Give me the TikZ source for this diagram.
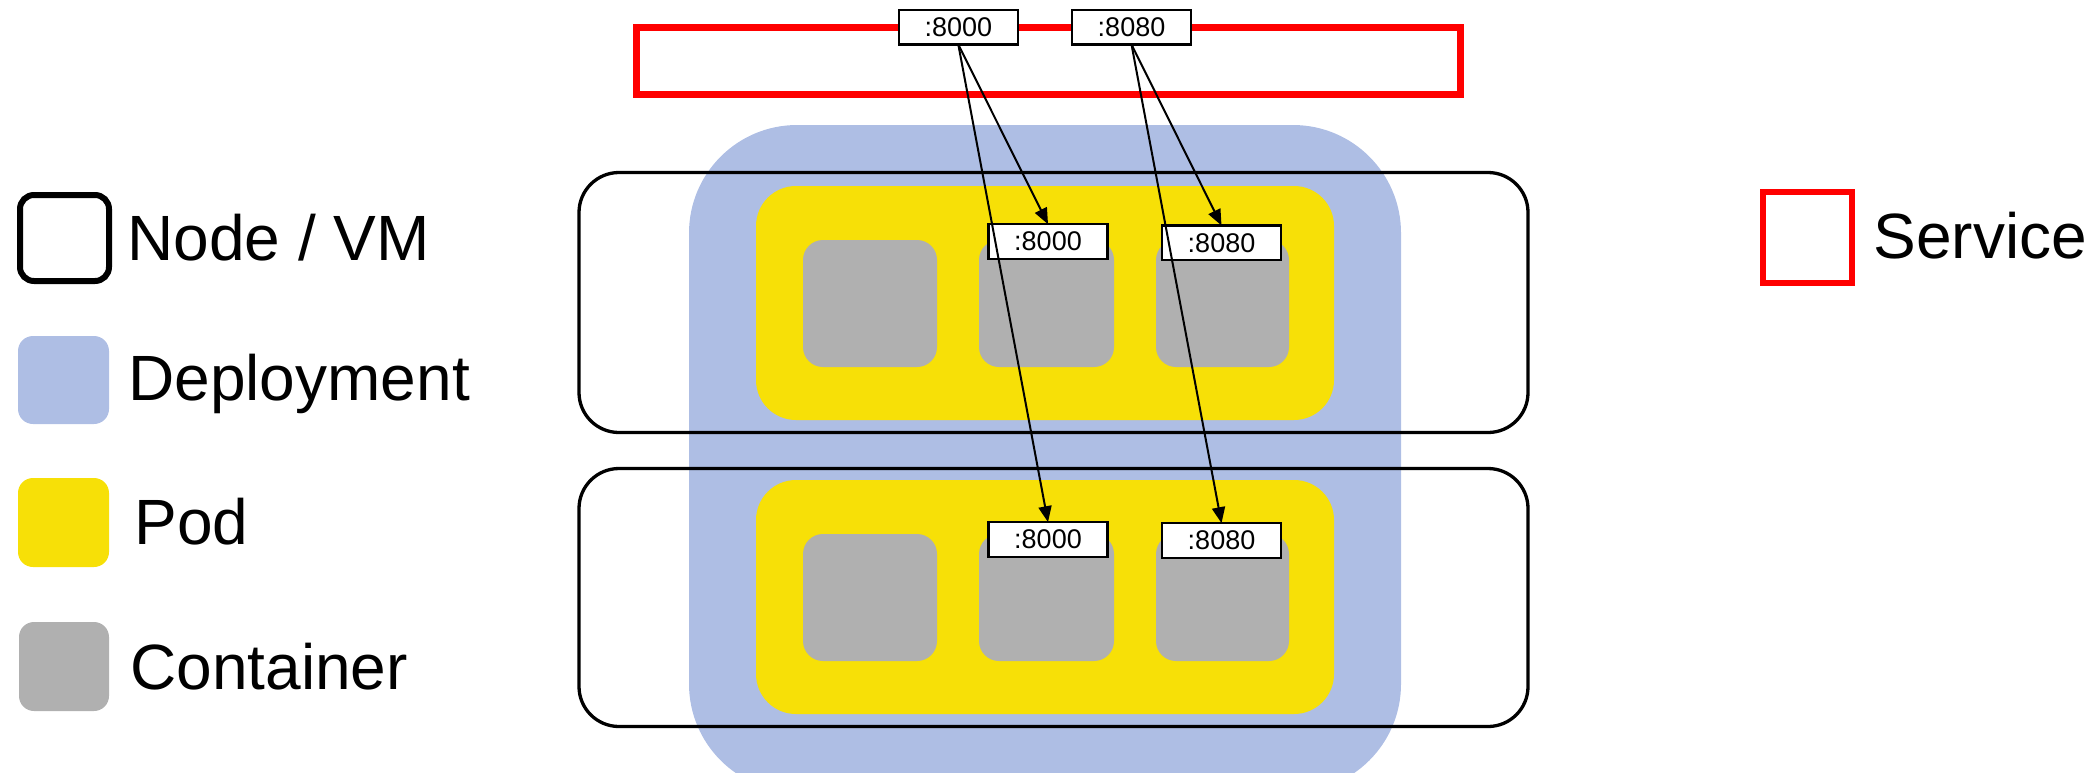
\documentclass[tikz,border=0pt]{standalone}
\usepackage{fontspec}
\setmainfont{Liberation Sans}
\usetikzlibrary{fit,arrows.meta}
\definecolor{deploy}{HTML}{AEBEE4}
\definecolor{podyellow}{HTML}{F7E007}
\definecolor{ctrgray}{HTML}{B0B0B0}
\definecolor{svcred}{HTML}{FF0000}

\begin{document}
\begin{tikzpicture}[x=0.5pt,y=-0.5pt,
  area/.style={inner sep=0pt, outer sep=0pt},
  deploybox/.style={area, fill=deploy, rounded corners=54pt},
  vmbox/.style={area, draw=black, line width=1.65pt, rounded corners=20pt},
  podbox/.style={area, fill=podyellow, rounded corners=20pt},
  ctrbox/.style={area, fill=ctrgray, rounded corners=10pt},
  port/.style={area, draw=black, line width=1.25pt, fill=white,
    minimum width=59.5pt, minimum height=17.3pt,
    font=\fontsize{13.5}{16}\selectfont},
  svcbox/.style={area, draw=svcred, line width=3.25pt},
  flow/.style={line width=1pt, -{Triangle[length=8pt,width=6.5pt]}},
  legvm/.style={area, draw=black, line width=3pt, rounded corners=7pt},
  legfill/.style={area, rounded corners=7.5pt},
  legsvc/.style={area, draw=svcred, line width=3pt},
  legendtext/.style={anchor=base west, inner sep=0pt, font=\fontsize{32}{38}\selectfont},
]
\path[use as bounding box, clip] (0,0) rectangle (2092,772);

% deployment spanning both nodes
\node[deploybox, fit={(689,125) (1401,792)}] (deploy) {};

% nodes / VMs
\node[vmbox, fit={(579,172.5) (1528,432.5)}] (vm1) {};
\node[vmbox, fit={(579,468.5) (1528,726.5)}] (vm2) {};

% pods
\node[podbox, fit={(756,186) (1334,420)}] (pod1) {};
\node[podbox, fit={(756,480) (1334,714)}] (pod2) {};

% containers
\node[ctrbox, fit={(803,240) (937,367)}]   (c11) {};
\node[ctrbox, fit={(979,240) (1114,367)}]  (c12) {};
\node[ctrbox, fit={(1156,240) (1289,367)}] (c13) {};
\node[ctrbox, fit={(803,534) (937,661)}]   (c21) {};
\node[ctrbox, fit={(979,534) (1114,661)}]  (c22) {};
\node[ctrbox, fit={(1156,534) (1289,661)}] (c23) {};

% container ports
\node[port] (p1a) at (1048,241.5)   {:8000};
\node[port] (p1b) at (1221.5,242.8) {:8080};
\node[port] (p2a) at (1048,539.5)   {:8000};
\node[port] (p2b) at (1221.5,540.5) {:8080};

% service
\node[svcbox, fit={(636.5,27.3) (1460.5,94.7)}] (svc) {};
\node[port] (s8000) at (958.3,27.2)  {:8000};
\node[port] (s8080) at (1131.5,27.2) {:8080};

% service port routing
\draw[flow] (s8000.south) -- (p1a.north);
\draw[flow] (s8000.south) -- (p2a.north);
\draw[flow] (s8080.south) -- (p1b.north);
\draw[flow] (s8080.south) -- (p2b.north);

% legend
\node[legvm, fit={(20,195) (109,281)}] (kvm) {};
\node[legendtext] (tvm) at (127,260) {Node / VM};
\node[legfill, fill=deploy, fit={(18,336) (109,424)}] (kdep) {};
\node[legendtext] (tdep) at (128,400) {Deployment};
\node[legfill, fill=podyellow, fit={(18,478) (109,567)}] (kpod) {};
\node[legendtext] (tpod) at (134,544) {Pod};
\node[legfill, fill=ctrgray, fit={(19,622) (109,711)}] (kctr) {};
\node[legendtext] (tctr) at (130,689) {Container};
\node[legsvc, fit={(1763,192) (1852,283)}] (ksvc) {};
\node[legendtext] (tsvc) at (1873,258) {Service};
\end{tikzpicture}
\end{document}
